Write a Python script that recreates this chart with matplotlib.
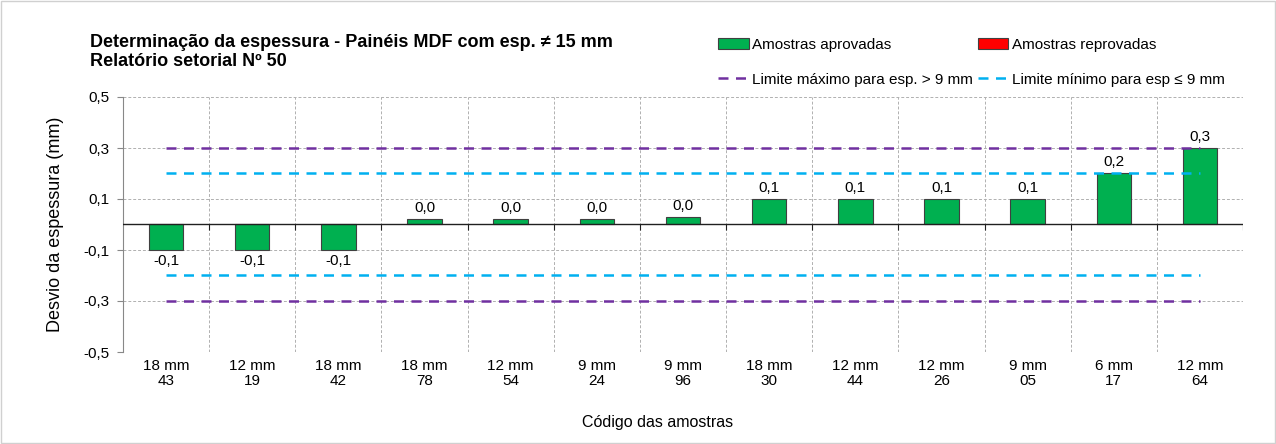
import matplotlib
matplotlib.use("Agg")
import matplotlib.pyplot as plt
import numpy as np
from matplotlib.patches import Patch
from matplotlib.lines import Line2D

plt.rcParams['font.family'] = ['Liberation Sans', 'DejaVu Sans']

categories = ["18 mm\n43", "12 mm\n19", "18 mm\n42", "18 mm\n78", "12 mm\n54", "9 mm\n24",
              "9 mm\n96", "18 mm\n30", "12 mm\n44", "12 mm\n26", "9 mm\n05", "6 mm\n17", "12 mm\n64"]
values = [-0.1, -0.1, -0.1, 0.02, 0.02, 0.02, 0.03, 0.1, 0.1, 0.1, 0.1, 0.2, 0.3]
limit_max = [0.3, -0.3]
limit_min = [0.2, -0.2]
yticks = [-0.5, -0.3, -0.1, 0.1, 0.3, 0.5]

green = "#00B050"
red = "#FF0000"
purple = "#7030A0"
cyan = "#00B0F0"

fig = plt.figure(figsize=(12.76, 4.44), dpi=100)
ax = fig.add_axes([123/1276, 1-352/444, (1243-123)/1276, (352-97)/444])

x = np.arange(len(categories))
ax.bar(x, values, width=0.4, color=green, edgecolor="#404040", linewidth=0.8, zorder=3)

for xi, v in zip(x, values):
    lbl = f"{v:.1f}".replace(".", ",")
    if v >= 0:
        ax.annotate(lbl, (xi, v), xytext=(0, 3), textcoords="offset points",
                    ha="center", va="bottom", fontsize=11, zorder=5)
    else:
        ax.annotate(lbl, (xi, v), xytext=(0, -3), textcoords="offset points",
                    ha="center", va="top", fontsize=11, zorder=5)

for lv in limit_max:
    ax.plot([x[0], x[-1]], [lv, lv], color=purple, linestyle=(0, (4, 3)), linewidth=1.8, zorder=4)
for lv in limit_min:
    ax.plot([x[0], x[-1]], [lv, lv], color=cyan, linestyle=(0, (4, 3)), linewidth=1.8, zorder=4)

ax.set_xlim(-0.5, len(categories) - 0.5)
ax.set_ylim(-0.5, 0.5)
ax.set_yticks(yticks)
ax.set_yticklabels([f"{t:.1f}".replace(".", ",") for t in yticks], fontsize=11)
ax.set_xticks(x)
ax.set_xticklabels(categories, fontsize=11, linespacing=1.1)
ax.tick_params(axis="x", length=0, pad=5)
ax.tick_params(axis="y", length=4, color="#888888", direction="out", pad=6)

ax.grid(axis="y", color="#B0B0B0", linestyle=(0, (3, 2)), linewidth=0.7, zorder=0)
bounds = np.arange(len(categories) + 1) - 0.5
for b in bounds[1:]:
    ax.axvline(b, color="#B0B0B0", linestyle=(0, (3, 2)), linewidth=0.7, zorder=0)
ax.axhline(0, color="#202020", linewidth=1.0, zorder=4)
ax.vlines(bounds[1:], -0.02, 0, color="#202020", linewidth=0.8, zorder=4)

for s in ["top", "right", "bottom"]:
    ax.spines[s].set_visible(False)
ax.spines["left"].set_color("#888888")

ax.set_ylabel("Desvio da espessura (mm)", fontsize=13, labelpad=14)
fig.text(658/1276, 1-422/444, "Código das amostras", fontsize=11.5, ha="center", va="center")

fig.text(90/1276, 1-52/444, "Determinação da espessura - Painéis MDF com esp. ≠ 15 mm\nRelatório setorial Nº 50",
         fontsize=13, fontweight="bold", ha="left", va="center", linespacing=1.2)

handles = [Patch(facecolor=green, edgecolor="#404040", linewidth=0.8),
           Line2D([0], [0], color=purple, linestyle=(0, (4, 3)), linewidth=1.8),
           Patch(facecolor=red, edgecolor="#404040", linewidth=0.8),
           Line2D([0], [0], color=cyan, linestyle=(0, (4, 3)), linewidth=1.8)]
labels = ["Amostras aprovadas", "Limite máximo para esp. > 9 mm",
          "Amostras reprovadas", "Limite mínimo para esp ≤ 9 mm"]
fig.legend(handles, labels, loc="upper left", bbox_to_anchor=(718/1276, 1-38/444), ncol=2,
           frameon=False, fontsize=11, handlelength=2.0, handletextpad=0.25,
           columnspacing=0.3, labelspacing=1.35, borderaxespad=0, borderpad=0)

fig.patches.append(plt.Rectangle((0.001, 0.002), 0.998, 0.996, transform=fig.transFigure,
                                 fill=False, edgecolor="#D0D0D0", linewidth=1))

fig.savefig("out.png", dpi=100)
